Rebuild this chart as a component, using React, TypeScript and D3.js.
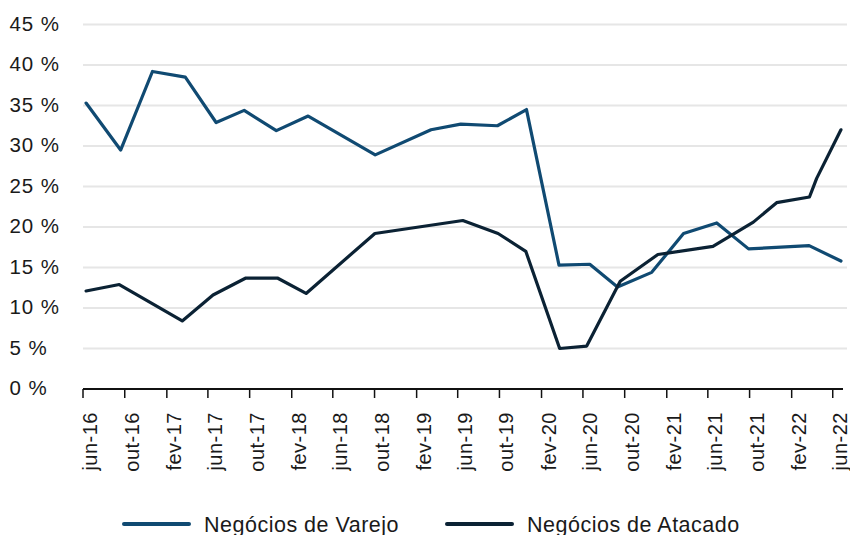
import React, { useEffect, useRef } from 'react';
import * as d3 from 'd3';

// Tick labels on the x axis (every 4 months)
const tickLabels = [
  'jun-16', 'out-16', 'fev-17', 'jun-17', 'out-17', 'fev-18', 'jun-18', 'out-18',
  'fev-19', 'jun-19', 'out-19', 'fev-20', 'jun-20', 'out-20', 'fev-21', 'jun-21',
  'out-21', 'fev-22', 'jun-22',
];

// Negócios de Varejo
const varejoDates = [
  '2016-06-10', '2016-09-19', '2016-12-21', '2017-03-27', '2017-06-25', '2017-09-15',
  '2017-12-18', '2018-03-21', '2018-10-03', '2019-03-15', '2019-06-10', '2019-09-25',
  '2019-12-19', '2020-03-23', '2020-06-21', '2020-09-10', '2020-12-19', '2021-03-22',
  '2021-06-27', '2021-09-28', '2022-03-24', '2022-06-25',
];
const varejoValues = [
  35.3, 29.5, 39.2, 38.5, 32.9, 34.4, 31.9, 33.7, 28.9, 32.0, 32.7, 32.5,
  34.5, 15.3, 15.4, 12.6, 14.4, 19.2, 20.5, 17.3, 17.7, 15.8,
];

// Negócios de Atacado
const atacadoDates = [
  '2016-06-10', '2016-09-15', '2017-03-18', '2017-06-16', '2017-09-20', '2017-12-21',
  '2018-03-15', '2018-10-02', '2019-06-16', '2019-09-27', '2019-12-17', '2020-03-25',
  '2020-06-12', '2020-09-18', '2021-01-06', '2021-06-16', '2021-10-12', '2021-12-19',
  '2022-03-25', '2022-04-15', '2022-06-25',
];
const atacadoValues = [
  12.1, 12.9, 8.4, 11.6, 13.7, 13.7, 11.8, 19.2, 20.8, 19.2, 17.0, 5.0,
  5.3, 13.3, 16.6, 17.6, 20.6, 23.0, 23.7, 26.0, 32.0,
];

const yTicks = [0, 5, 10, 15, 20, 25, 30, 35, 40, 45];

const VAREJO_COLOR = '#104a72';
const ATACADO_COLOR = '#0b2234';

interface Pt {
  date: Date;
  value: number;
}

const App: React.FC = () => {
  const svgRef = useRef<SVGSVGElement>(null);

  useEffect(() => {
    const W = 850;
    const H = 535;
    const font = '"Liberation Sans", Arial, sans-serif';

    const svg = d3.select(svgRef.current);
    svg.selectAll('*').remove();
    svg.attr('width', W).attr('height', H);

    const parse = d3.timeParse('%Y-%m-%d');
    const varejo: Pt[] = varejoDates.map((d, i) => ({ date: parse(d) as Date, value: varejoValues[i] }));
    const atacado: Pt[] = atacadoDates.map((d, i) => ({ date: parse(d) as Date, value: atacadoValues[i] }));

    // Scales
    const xScale = d3.scaleTime()
      .domain([new Date(2016, 5, 1), new Date(2022, 6, 1)])
      .range([83, 843]);

    const yScale = d3.scaleLinear()
      .domain([0, 45])
      .range([389, 24.5]);

    // Grid lines
    svg.append('g')
      .selectAll('line')
      .data(yTicks.filter(t => t > 0))
      .enter()
      .append('line')
      .attr('x1', 83)
      .attr('x2', 847)
      .attr('y1', d => yScale(d))
      .attr('y2', d => yScale(d))
      .attr('stroke', '#e6e6e6')
      .attr('stroke-width', 2);

    // Y labels (left aligned)
    svg.append('g')
      .selectAll('text')
      .data(yTicks)
      .enter()
      .append('text')
      .attr('x', 9.5)
      .attr('y', d => yScale(d) + 6)
      .style('font-family', font)
      .style('font-size', '20.5px')
      .style('letter-spacing', '0.9px')
      .style('fill', '#1a1a1a')
      .text(d => `${d} %`);

    // X axis
    const tickDates = tickLabels.map((_, i) => d3.timeMonth.offset(new Date(2016, 5, 1), i * 4));
    const xAxis = svg.append('g').attr('transform', 'translate(0,389)');
    xAxis.append('line')
      .attr('x1', 83)
      .attr('x2', 843)
      .attr('stroke', '#111')
      .attr('stroke-width', 2);
    xAxis.selectAll('.tick')
      .data(tickDates)
      .enter()
      .append('line')
      .attr('class', 'tick')
      .attr('x1', d => xScale(d))
      .attr('x2', d => xScale(d))
      .attr('y1', 0)
      .attr('y2', 9)
      .attr('stroke', '#111')
      .attr('stroke-width', 1.5);
    xAxis.selectAll('.lbl')
      .data(tickDates)
      .enter()
      .append('text')
      .attr('class', 'lbl')
      .attr('transform', d => `translate(${xScale(d)},23) rotate(-90)`)
      .attr('dy', '14')
      .attr('text-anchor', 'end')
      .style('font-family', font)
      .style('font-size', '20px')
      .style('letter-spacing', '0.5px')
      .style('fill', '#1a1a1a')
      .text((_, i) => tickLabels[i]);

    // Lines
    const line = d3.line<Pt>()
      .x(d => xScale(d.date))
      .y(d => yScale(d.value));

    svg.append('path')
      .datum(varejo)
      .attr('fill', 'none')
      .attr('stroke', VAREJO_COLOR)
      .attr('stroke-width', 3.2)
      .attr('stroke-linejoin', 'round')
      .attr('stroke-linecap', 'round')
      .attr('d', line);

    svg.append('path')
      .datum(atacado)
      .attr('fill', 'none')
      .attr('stroke', ATACADO_COLOR)
      .attr('stroke-width', 3.2)
      .attr('stroke-linejoin', 'round')
      .attr('stroke-linecap', 'round')
      .attr('d', line);

    // Legend
    const legendItems = [
      { label: 'Negócios de Varejo', color: VAREJO_COLOR, x: 124 },
      { label: 'Negócios de Atacado', color: ATACADO_COLOR, x: 447 },
    ];
    const legend = svg.append('g');
    legendItems.forEach(item => {
      legend.append('line')
        .attr('x1', item.x)
        .attr('x2', item.x + 65)
        .attr('y1', 524)
        .attr('y2', 524)
        .attr('stroke', item.color)
        .attr('stroke-width', 4)
        .attr('stroke-linecap', 'round');
      legend.append('text')
        .attr('x', item.x + 80)
        .attr('y', 531.5)
        .style('font-family', font)
        .style('font-size', '21.5px')
        .style('letter-spacing', '0.5px')
        .style('fill', '#1a1a1a')
        .text(item.label);
    });
  }, []);

  return (
    <svg
      ref={svgRef}
      style={{ position: 'absolute', left: 0, top: 0, background: '#fff' }}
    ></svg>
  );
};

export default App;
